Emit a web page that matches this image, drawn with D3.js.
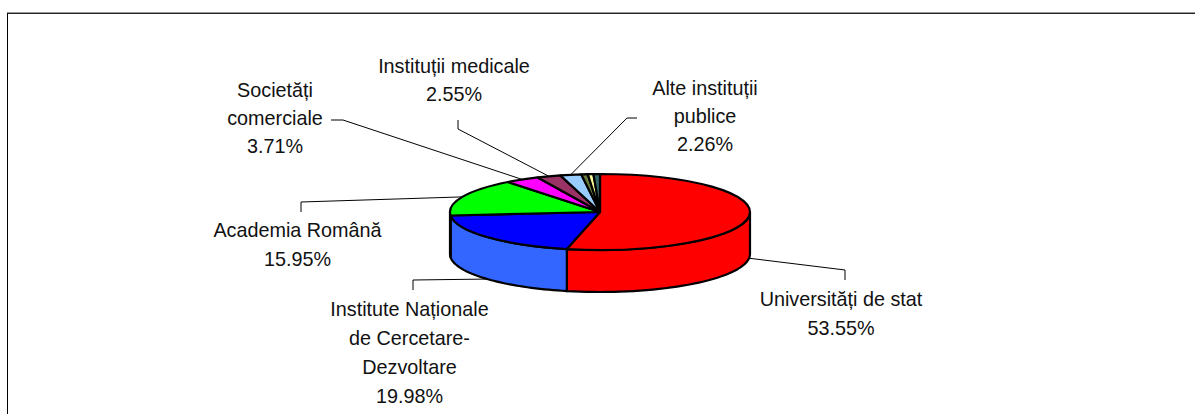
<!DOCTYPE html>
<html>
<head>
<meta charset="utf-8">
<script src="https://cdn.jsdelivr.net/npm/d3@7/dist/d3.min.js"></script>
<style>
  body { margin: 0; background: #fff; }
  svg { display: block; }
  text { font-family: "Liberation Sans", Arial, sans-serif; font-size: 19.8px; fill: #111; text-anchor: middle; }
</style>
</head>
<body>
<svg id="chart" width="1195" height="414"></svg>
<script>
// valorile, ultimele trei felii nu au eticheta
const categories = ['Universități de stat', 'Institute Naționale de Cercetare-Dezvoltare', 'Academia Română',
  'Societăți comerciale', 'Instituții medicale', 'Alte instituții publice', 'Altele 1', 'Altele 2', 'Altele 3']
const values = [53.55, 19.98, 15.95, 3.71, 2.55, 2.26, 0.7, 0.6, 0.7]
const topColors = ['#ff0000', '#0000ff', '#00ff00', '#ff00ff', '#993366', '#99ccff', '#667a3c', '#ffff99', '#336666']
const sideColors = ['#ff0000', '#3366ff', '#00ff00', '#ff00ff', '#993366', '#99ccff', '#667a3c', '#ffff99', '#336666']

const labelLines = [
  ['Universități de stat', '53.55%'],
  ['Institute Naționale', 'de Cercetare-', 'Dezvoltare', '19.98%'],
  ['Academia Română', '15.95%'],
  ['Societăți', 'comerciale', '3.71%'],
  ['Instituții medicale', '2.55%'],
  ['Alte instituții', 'publice', '2.26%']
]
// pozitia etichetelor: centru x, prima linie de baza, pasul intre linii
const labelPos = [[841, 306, 29], [409.5, 315.5, 29.3], [297.5, 237, 28.5], [275, 96.5, 28.3], [454, 72.5, 28.5], [705, 94.5, 28.2]]
// punctele de frangere ale liniilor de legatura
const leaderKnees = [
  [[845, 270], [845, 280]],
  [[413, 280], [413, 290]],
  [[301, 202], [301, 212]],
  [[343, 120], [331, 120]],
  [[458, 129], [458, 120]],
  [[627, 118], [637, 118]]
]

const cx = 600, cy = 212, rx = 150, ry = 38, depth = 42

const svg = d3.select('#chart')

// chenarul, iese din imagine la dreapta si jos
svg.append('rect').attr('x', 7).attr('y', 12).attr('width', 1188).attr('height', 1).attr('fill', '#999')
svg.append('rect').attr('x', 7).attr('y', 13).attr('width', 1188).attr('height', 1).attr('fill', '#222')
svg.append('rect').attr('x', 7).attr('y', 13).attr('width', 1).attr('height', 401).attr('fill', '#000')

const pie = d3.pie().sort(null).value(d => d)
const slices = pie(values)

const project = (a, dy = 0) => [cx + rx * Math.sin(a), cy - ry * Math.cos(a) + dy]

// linii de legatura
const line = d3.line()
const isFront = d => {
  const mid = (d.startAngle + d.endAngle) / 2
  return Math.cos(mid) < 0 && d.index < 2
}
svg.append('g').selectAll('path')
  .data(slices.slice(0, labelLines.length))
  .join('path')
  .attr('d', d => {
    const mid = (d.startAngle + d.endAngle) / 2
    const start = project(mid, isFront(d) ? depth : 0)
    return line([start, ...leaderKnees[d.index]])
  })
  .attr('fill', 'none')
  .attr('stroke', '#000')
  .attr('stroke-width', 1)

// peretele lateral, doar partea din fata (90-270 grade)
const sideLow = Math.PI / 2, sideHigh = Math.PI * 1.5
const sidePath = d => {
  const a0 = Math.max(d.startAngle, sideLow), a1 = Math.min(d.endAngle, sideHigh)
  if (a1 <= a0) return null
  const steps = d3.range(0, 41).map(i => a0 + (a1 - a0) * i / 40)
  const upper = steps.map(a => project(a))
  const lower = steps.map(a => project(a, depth)).reverse()
  return line([...upper, ...lower]) + 'Z'
}
svg.append('g').selectAll('path')
  .data(slices.filter(d => sidePath(d)))
  .join('path')
  .attr('d', sidePath)
  .attr('fill', d => sideColors[d.index])
  .attr('stroke', '#000')
  .attr('stroke-width', 2.2)
  .attr('stroke-linejoin', 'round')

// fata de sus: arc normal turtit pe y
const arc = d3.arc().innerRadius(0).outerRadius(rx)
svg.append('g')
  .attr('transform', `translate(${cx},${cy}) scale(1,${ry / rx})`)
  .selectAll('path')
  .data(slices)
  .join('path')
  .attr('d', arc)
  .attr('fill', d => topColors[d.index])
  .attr('stroke', '#000')
  .attr('stroke-width', 2.2)
  .attr('stroke-linejoin', 'round')
  .attr('vector-effect', 'non-scaling-stroke')

// etichete
svg.append('g').selectAll('text')
  .data(labelLines)
  .join('text')
  .each(function (lines, i) {
    const [x, y, step] = labelPos[i]
    d3.select(this).selectAll('tspan')
      .data(lines)
      .join('tspan')
      .attr('x', x)
      .attr('y', (d, j) => y + j * step)
      .text(d => d)
  })
</script>
</body>
</html>
